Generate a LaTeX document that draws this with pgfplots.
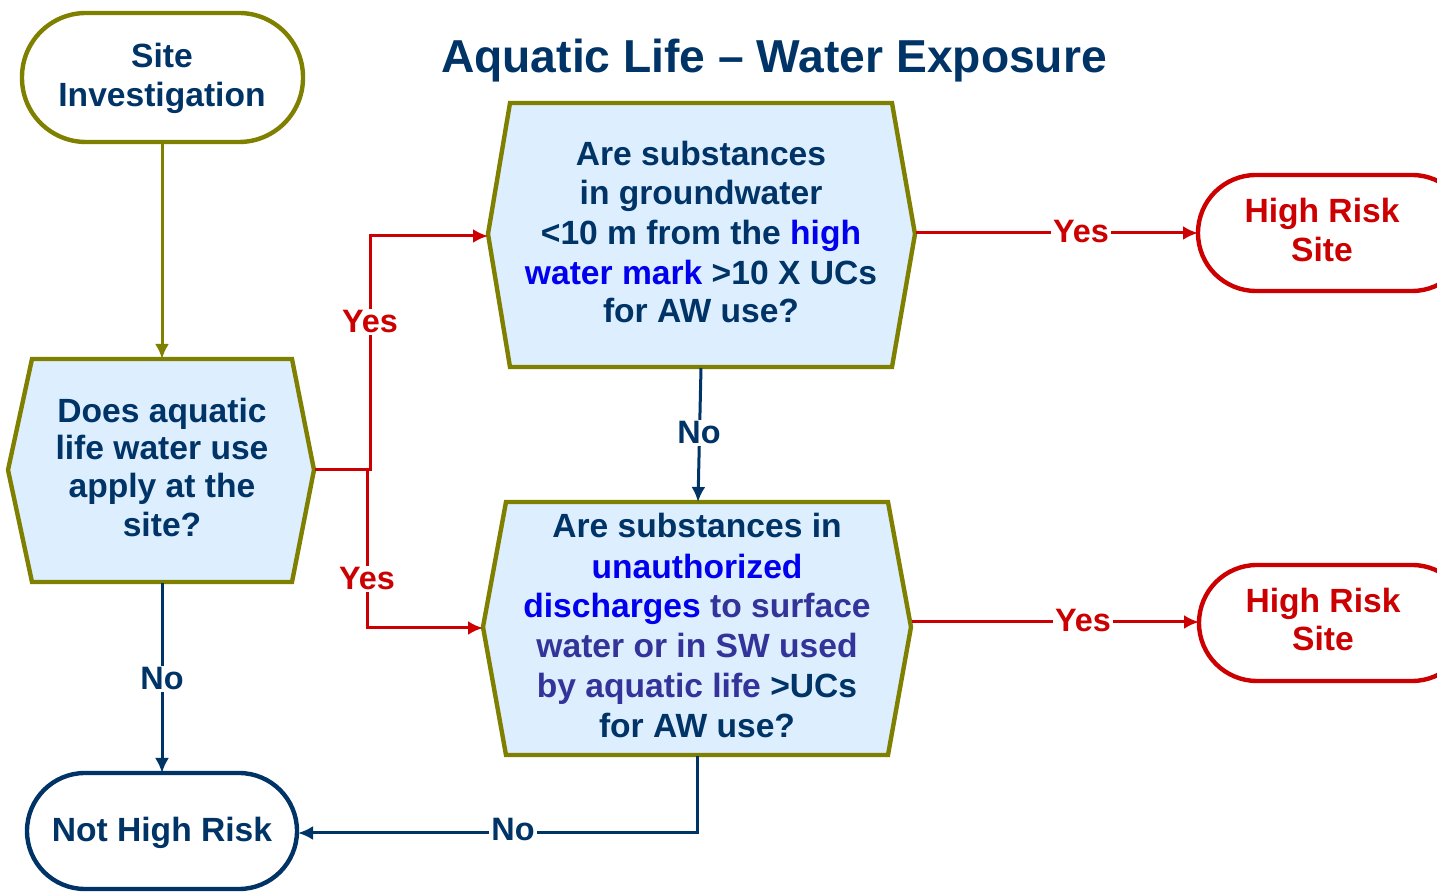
\documentclass[border=0pt]{standalone}
\usepackage{graphicx}
\usepackage{fontspec}
\setmainfont{Liberation Sans}
\usepackage{pgfplots}
\pgfplotsset{compat=1.18}
\usetikzlibrary{arrows.meta}
\definecolor{navy}{HTML}{003366}
\definecolor{olivec}{HTML}{808000}
\definecolor{fillb}{HTML}{DDEEFF}
\definecolor{redc}{HTML}{CC0000}
\definecolor{bluec}{HTML}{0000EE}
\definecolor{purp}{HTML}{333399}
\newcommand{\bx}{\fontsize{16.8}{20}\selectfont\bfseries}
\newcommand{\lb}{\fontsize{16.2}{18}\selectfont\bfseries}
\begin{document}
\begin{tikzpicture}
\begin{axis}[x=0.5pt, y=0.5pt, xmin=0, xmax=1437, ymin=0, ymax=892,
  y dir=reverse, axis lines=none, ticks=none, clip=false,
  anchor=south west, at={(0,0)}]
% shapes
\addplot[draw=olivec, line width=2.2pt, fill=white, rounded corners=32pt] coordinates {(22,13) (303,13) (303,142) (22,142)} -- cycle;
\addplot[draw=olivec, line width=2.2pt, fill=fillb, line join=miter] coordinates {(32,359) (292,359) (314,470) (292,582) (32,582) (8,470)} -- cycle;
\addplot[draw=olivec, line width=2.2pt, fill=fillb, line join=miter] coordinates {(510,103) (892,103) (915,234) (892,367) (510,367) (488,234)} -- cycle;
\addplot[draw=olivec, line width=2.2pt, fill=fillb, line join=miter] coordinates {(506,502) (888,502) (911,627) (888,755) (506,755) (483,627)} -- cycle;
\addplot[draw=redc, line width=2.2pt, fill=white, rounded corners=29pt] coordinates {(1198,175) (1470,175) (1470,291) (1198,291)} -- cycle;
\addplot[draw=redc, line width=2.2pt, fill=white, rounded corners=29pt] coordinates {(1199,565) (1470,565) (1470,681) (1199,681)} -- cycle;
\addplot[draw=navy, line width=2.2pt, fill=white, rounded corners=29pt] coordinates {(27,773) (297,773) (297,889) (27,889)} -- cycle;
% connectors
\addplot[draw=olivec, line width=1.5pt, -{Latex[length=7.5pt,width=7pt]}] coordinates {(162,143) (162,359)};
\addplot[draw=redc, line width=1.5pt, -{Latex[length=7.5pt,width=7pt]}] coordinates {(315,470) (370,470) (370,236) (488,236)};
\addplot[draw=redc, line width=1.5pt, -{Latex[length=7.5pt,width=7pt]}] coordinates {(367,470) (367,628) (483,628)};
\addplot[draw=redc, line width=1.5pt, -{Latex[length=7.5pt,width=7pt]}] coordinates {(916,233) (1198,233)};
\addplot[draw=redc, line width=1.5pt, -{Latex[length=7.5pt,width=7pt]}] coordinates {(912,622) (1199,622)};
\addplot[draw=navy, line width=1.5pt, -{Latex[length=7.5pt,width=7pt]}] coordinates {(701,368) (698,502)};
\addplot[draw=navy, line width=1.5pt, -{Latex[length=7.5pt,width=7pt]}] coordinates {(162,583) (162,773)};
\addplot[draw=navy, line width=1.5pt, -{Latex[length=7.5pt,width=7pt]}] coordinates {(697,756) (697,833) (298,833)};
% labels on connectors
\node[fill=white, inner sep=1pt, text=redc, font=\lb] at (axis cs:370,322) {Yes};
\node[fill=white, inner sep=1pt, text=redc, font=\lb] at (axis cs:367,579) {Yes};
\node[fill=white, inner sep=1pt, text=redc, font=\lb] at (axis cs:1081,232) {Yes};
\node[fill=white, inner sep=1pt, text=redc, font=\lb] at (axis cs:1083,621) {Yes};
\node[fill=white, inner sep=1pt, text=navy, font=\lb] at (axis cs:699,433) {No};
\node[fill=white, inner sep=1pt, text=navy, font=\lb] at (axis cs:162,679) {No};
\node[fill=white, inner sep=1pt, text=navy, font=\lb] at (axis cs:513,830) {No};
% title
\node[anchor=base, text=navy, font=\fontsize{23.1}{27}\selectfont\bfseries] at (axis cs:774,73) {Aquatic Life -- Water Exposure};
% box texts
\node[anchor=base, text=navy, font=\bx] at (axis cs:162,68) {Site};
\node[anchor=base, text=navy, font=\bx] at (axis cs:162,107) {Investigation};
\node[anchor=base, text=navy, font=\bx] at (axis cs:162,423) {Does aquatic};
\node[anchor=base, text=navy, font=\bx] at (axis cs:162,460) {life water use};
\node[anchor=base, text=navy, font=\bx] at (axis cs:162,498) {apply at the};
\node[anchor=base, text=navy, font=\bx] at (axis cs:162,537) {site?};
\node[anchor=base, text=navy, font=\bx] at (axis cs:701,166) {Are substances};
\node[anchor=base, text=navy, font=\bx] at (axis cs:701,205) {in groundwater};
\node[anchor=base, text=navy, font=\bx] at (axis cs:701,245) {<10 m from the \textcolor{bluec}{high}};
\node[anchor=base, text=navy, font=\bx] at (axis cs:701,285) {\textcolor{bluec}{water mark} >10 X UCs};
\node[anchor=base, text=navy, font=\bx] at (axis cs:701,323) {for AW use?};
\node[anchor=base, text=navy, font=\bx] at (axis cs:697,538) {Are substances in};
\node[anchor=base, text=bluec, font=\bx] at (axis cs:697,579) {unauthorized};
\node[anchor=base, text=purp, font=\bx] at (axis cs:697,618) {\textcolor{bluec}{discharges} to surface};
\node[anchor=base, text=purp, font=\bx] at (axis cs:697,658) {water or in SW used};
\node[anchor=base, text=purp, font=\bx] at (axis cs:697,698) {by aquatic life \textcolor{navy}{>UCs}};
\node[anchor=base, text=navy, font=\bx] at (axis cs:697,738) {for AW use?};
\node[anchor=base, text=redc, font=\bx] at (axis cs:1322,223) {High Risk};
\node[anchor=base, text=redc, font=\bx] at (axis cs:1322,262) {Site};
\node[anchor=base, text=redc, font=\bx] at (axis cs:1323,613) {High Risk};
\node[anchor=base, text=redc, font=\bx] at (axis cs:1323,651) {Site};
\node[anchor=base, text=navy, font=\bx] at (axis cs:162,842) {Not High Risk};
\end{axis}
\pgfresetboundingbox
\path[use as bounding box] (0,0) rectangle (718.5pt,446pt);
\end{tikzpicture}
\end{document}
